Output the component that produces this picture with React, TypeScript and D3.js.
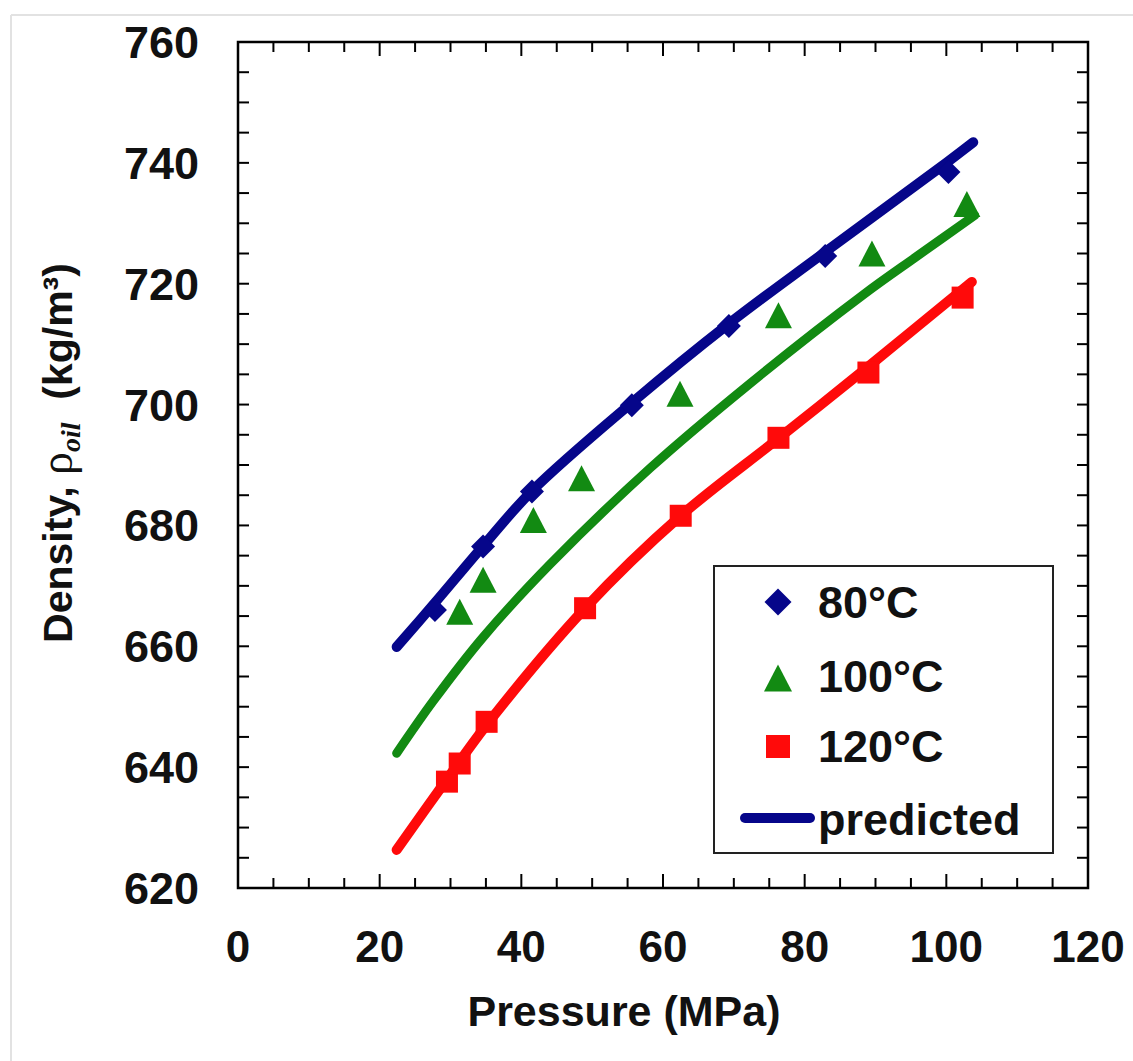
import React from "react";
import * as d3 from "d3";

const xTicks = [0, 20, 40, 60, 80, 100, 120];
const yTicks = [620, 640, 660, 680, 700, 720, 740, 760];

const pressure80 = [27.8, 34.6, 41.5, 55.6, 69.3, 82.9, 100.3];
const density80 = [666.0, 676.5, 685.6, 699.9, 713.0, 724.6, 738.5];
const pressure100 = [31.3, 34.6, 41.7, 48.5, 62.4, 76.3, 89.5, 102.9];
const density100 = [665.7, 671.0, 680.9, 687.8, 701.8, 714.8, 725.0, 733.2];
const pressure120 = [29.5, 31.3, 35.1, 49.0, 62.5, 76.3, 89.0, 102.3];
const density120 = [637.6, 640.6, 647.5, 666.3, 681.6, 694.5, 705.3, 717.7];

const predP80 = [22.4, 27.8, 34.6, 41.5, 55.6, 69.2, 82.6, 100, 103.8];
const predV80 = [659.9, 667.2, 676.6, 685.7, 700.3, 713.3, 725, 740, 743.4];
const predP100 = [22.4, 27.6, 34.6, 44.0, 58.2, 72.3, 88.3, 95.8, 104];
const predV100 = [642.3, 651, 661.5, 673.5, 689.5, 703.5, 718.2, 724.5, 731.3];
const predP120 = [22.4, 29.5, 35.1, 49.0, 62.4, 76.3, 89.0, 103.6];
const predV120 = [626.3, 638.0, 647.0, 666.3, 681.5, 694.4, 706.3, 720.3];

const legendLabels = ["80°C", "100°C", "120°C", "predicted"];

const NAVY = "#06068a";
const GREEN = "#128a12";
const RED = "#ff0a0a";

const L = 238, R = 1088, T = 42, B = 888;
const FONT = "'Liberation Sans', Arial, sans-serif";
const SERIF = "'Liberation Serif', 'Times New Roman', serif";

export default function App() {
  const x = d3.scaleLinear().domain([0, 120]).range([L, R]);
  const y = d3.scaleLinear().domain([620, 760]).range([B, T]);
  const line = d3
    .line<[number, number]>()
    .x((d) => x(d[0]))
    .y((d) => y(d[1]))
    .curve(d3.curveCatmullRom.alpha(0.5));

  const zip = (a: number[], b: number[]) => a.map((v, i) => [v, b[i]] as [number, number]);

  const xMinor = d3.range(0, 121, 5);
  const yMinor = d3.range(620, 761, 5);

  const diamond = (cx: number, cy: number, r: number) =>
    `M${cx},${cy - r}L${cx + r},${cy}L${cx},${cy + r}L${cx - r},${cy}Z`;
  const tri = (cx: number, cy: number, w: number, h: number) =>
    `M${cx},${cy - h / 2}L${cx + w / 2},${cy + h / 2}L${cx - w / 2},${cy + h / 2}Z`;

  return (
    <svg
      width={1133}
      height={1061}
      style={{ position: "absolute", left: 0, top: 0, background: "#fff" }}
      fontFamily={FONT}
    >
      <rect x={0} y={0} width={1133} height={1061} fill="#fff" />
      <line x1={11} y1={15} x2={1133} y2={15} stroke="#e2e2e2" strokeWidth={2} />
      <line x1={11} y1={15} x2={11} y2={1061} stroke="#e2e2e2" strokeWidth={2} />

      {/* ticks */}
      {xMinor.map((v) => {
        const major = v % 20 === 0;
        const len = major ? 14 : 10;
        return (
          <g key={"xt" + v}>
            <line x1={x(v)} x2={x(v)} y1={B} y2={B - len} stroke="#000" strokeWidth={2} />
            <line x1={x(v)} x2={x(v)} y1={T} y2={T + len} stroke="#000" strokeWidth={2} />
          </g>
        );
      })}
      {yMinor.map((v) => (
        <g key={"yt" + v}>
          <line x1={L} x2={L + 11} y1={y(v)} y2={y(v)} stroke="#000" strokeWidth={2} />
          <line x1={R} x2={R - 11} y1={y(v)} y2={y(v)} stroke="#000" strokeWidth={2} />
        </g>
      ))}
      <rect x={L} y={T} width={R - L} height={B - T} fill="none" stroke="#000" strokeWidth={2.5} />

      {/* tick labels */}
      {xTicks.map((v) => (
        <text key={"xl" + v} x={x(v)} y={962} textAnchor="middle" fontSize={44} fontWeight="bold" fill="#111">
          {v}
        </text>
      ))}
      {yTicks.map((v) => (
        <text key={"yl" + v} x={199} y={y(v) + 16} textAnchor="end" fontSize={45} fontWeight="bold" fill="#111">
          {v}
        </text>
      ))}

      {/* axis titles */}
      <text x={624} y={1026} textAnchor="middle" fontSize={43} fontWeight="bold" fill="#111">
        Pressure (MPa)
      </text>
      <text
        transform={`translate(72,453) rotate(-90)`}
        textAnchor="middle"
        fontSize={41}
        fontWeight="bold"
        fill="#111"
      >
        Density,{" "}
        <tspan fontFamily={SERIF} fontWeight="normal" fontSize={46}>ρ</tspan>
        <tspan fontFamily={SERIF} fontStyle="italic" fontWeight="bold" fontSize={28} dy={8}>
          oil
        </tspan>
        <tspan dy={-8}>{"\u00A0\u00A0"}(kg/m³)</tspan>
      </text>

      {/* predicted lines */}
      <path d={line(zip(predP120, predV120)) || ""} fill="none" stroke={RED} strokeWidth={10} strokeLinecap="round" />
      <path d={line(zip(predP100, predV100)) || ""} fill="none" stroke={GREEN} strokeWidth={9} strokeLinecap="round" />
      <path d={line(zip(predP80, predV80)) || ""} fill="none" stroke={NAVY} strokeWidth={10} strokeLinecap="round" />

      {/* markers */}
      {pressure80.map((p, i) => (
        <path key={"d" + i} d={diamond(x(p), y(density80[i]), 12)} fill={NAVY} />
      ))}
      {pressure100.map((p, i) => (
        <path key={"t" + i} d={tri(x(p), y(density100[i]), 27, 26)} fill={GREEN} />
      ))}
      {pressure120.map((p, i) => (
        <rect key={"s" + i} x={x(p) - 11} y={y(density120[i]) - 11} width={22} height={22} fill={RED} />
      ))}

      {/* legend */}
      <rect x={714} y={566} width={339} height={287} fill="#fff" stroke="#222" strokeWidth={2} />
      <path d={diamond(778, 602, 13.5)} fill={NAVY} />
      <path d={tri(778, 678, 28, 27)} fill={GREEN} />
      <rect x={766} y={735} width={24} height={23} fill={RED} />
      <line x1={745} x2={810} y1={818} y2={818} stroke={NAVY} strokeWidth={10} strokeLinecap="round" />
      {legendLabels.map((t, i) => (
        <text key={t} x={818} y={[618, 692, 762, 835][i]} fontSize={45} fontWeight="bold" fill="#111">
          {t}
        </text>
      ))}
    </svg>
  );
}
